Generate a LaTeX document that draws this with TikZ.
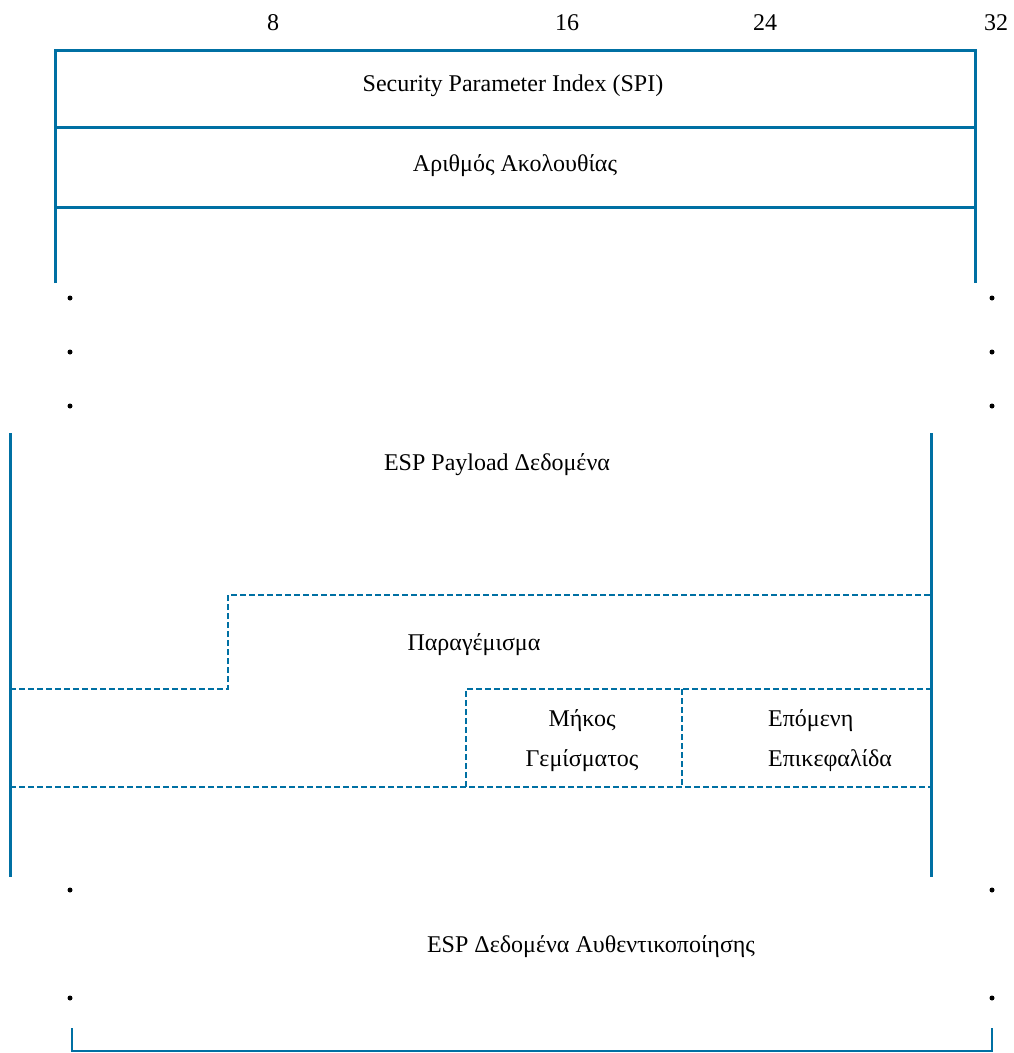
\documentclass[tikz,border=0pt]{standalone}
\usepackage{fontspec}
\setmainfont{Liberation Serif}
\definecolor{espblue}{RGB}{0,112,163}
\tikzset{
  solidline/.style={draw=espblue, line width=3pt},
  thinline/.style={draw=espblue, line width=2.4pt},
  dashline/.style={draw=espblue, line width=2.6pt, dash pattern=on 6pt off 3pt},
  lbl/.style={font=\fontsize{24}{28}\selectfont, inner sep=0pt, text=black},
  dotmark/.style={fill=black},
}
\begin{document}
\begin{tikzpicture}[x=1pt, y=-1pt]
\useasboundingbox (0,0) rectangle (1013,1053);

% bit positions
\node[lbl] (b8)  at (273,23) {8};
\node[lbl] (b16) at (567,23) {16};
\node[lbl] (b24) at (765,23) {24};
\node[lbl] (b32) at (996,23) {32};

% header: SPI and sequence number
\draw[solidline] (55,283) -- (55,50) -- (975,50) -- (975,283);
\draw[solidline] (55,127) -- (975,127);
\draw[solidline] (55,207) -- (975,207);
\node[lbl] (spi) at (513,86) {Security Parameter Index (SPI)};
\node[lbl] (seq) at (515,166) {Αριθμός Ακολουθίας};

% continuation dots
\foreach \y in {298,352,406,890,998} {
  \fill[dotmark] (70,\y) circle (2.5pt);
  \fill[dotmark] (992,\y) circle (2.5pt);
}

% payload block
\draw[solidline] (10,433) -- (10,877);
\draw[solidline] (931,433) -- (931,877);
\node[lbl] (payload) at (497,465) {ESP Payload Δεδομένα};

% padding, pad length, next header
\draw[dashline] (10,689) -- (228,689) -- (228,595) -- (931,595);
\draw[dashline] (466,787) -- (466,689) -- (931,689);
\draw[dashline] (682,689) -- (682,787);
\draw[dashline] (10,787) -- (931,787);
\node[lbl] (pad) at (474,645) {Παραγέμισμα};
\node[lbl] (padlen1) at (582,721) {Μήκος};
\node[lbl] (padlen2) at (582,761) {Γεμίσματος};
\node[lbl, anchor=west] (nh1) at (768,721) {Επόμενη};
\node[lbl, anchor=west] (nh2) at (768,761) {Επικεφαλίδα};

% authentication data
\node[lbl] (auth) at (591,947) {ESP Δεδομένα Αυθεντικοποίησης};
\draw[thinline] (72,1028) -- (72,1051) -- (992,1051) -- (992,1028);
\end{tikzpicture}
\end{document}
